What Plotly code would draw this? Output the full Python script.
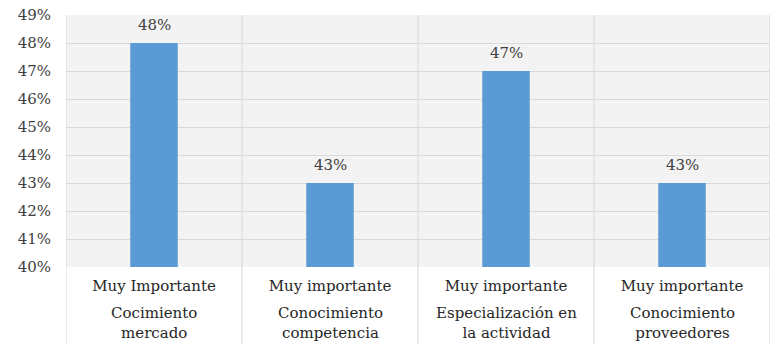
import plotly.graph_objects as go

# nivel de importancia (fila de arriba) y factor (fila de abajo)
niveles = ["Muy Importante", "Muy importante", "Muy importante", "Muy importante"]
factores = ["Cocimiento<br>mercado", "Conocimiento<br>competencia",
            "Especialización en<br>la actividad", "Conocimiento<br>proveedores"]
valores = [0.48, 0.43, 0.47, 0.43]

font_fam = "DejaVu Serif"
gris_txt = "#404040"
linea = "#d6d6d6"

H, T, B = 344, 15, 77
alto_plot = H - T - B
fondo = -B / alto_plot  # borde inferior de la imagen en coords paper

cats = list(range(len(valores)))

fig = go.Figure(go.Bar(
    x=cats,
    y=valores,
    marker=dict(color="#5b9bd5", line=dict(width=0)),
    width=0.27,
))

# etiquetas de valor encima de las barras
for i, v in enumerate(valores):
    fig.add_annotation(x=i, y=v, text=f"{v:.0%}", showarrow=False,
                       yanchor="bottom", yshift=7,
                       font=dict(family=font_fam, size=15, color=gris_txt))

# segunda fila de etiquetas (factor)
for i, f in enumerate(factores):
    fig.add_annotation(x=i, y=-56 / alto_plot, yref="paper", text=f,
                       showarrow=False, yanchor="middle",
                       font=dict(family=font_fam, size=15, color="#262626"))

# separadores verticales entre categorias
for i in range(len(valores) + 1):
    fig.add_shape(type="line", x0=i - 0.5, x1=i - 0.5, xref="x",
                  y0=fondo, y1=1, yref="paper",
                  line=dict(color=linea, width=1), layer="below")

fig.update_layout(
    width=773, height=H,
    margin=dict(l=66, r=3, t=T, b=B),
    paper_bgcolor="white",
    plot_bgcolor="#f3f3f3",
    showlegend=False,
    font=dict(family=font_fam, size=15, color=gris_txt),
)

fig.update_xaxes(
    range=[-0.5, len(valores) - 0.5],
    tickvals=cats, ticktext=niveles,
    showgrid=False, zeroline=False,
    ticks="", showline=False, automargin=False,
    ticklabelstandoff=8,
    tickfont=dict(family=font_fam, size=15, color="#262626"),
)
fig.update_yaxes(
    range=[0.40, 0.49], dtick=0.01, tickformat=".0%",
    showgrid=True, gridcolor="#d9d9d9", gridwidth=1,
    zeroline=False, ticks="", ticklabelstandoff=14, automargin=False,
    tickfont=dict(family=font_fam, size=15, color=gris_txt),
)

fig.write_html("out.html", config={"displayModeBar": False},
               post_script="document.body.style.margin='0';")
